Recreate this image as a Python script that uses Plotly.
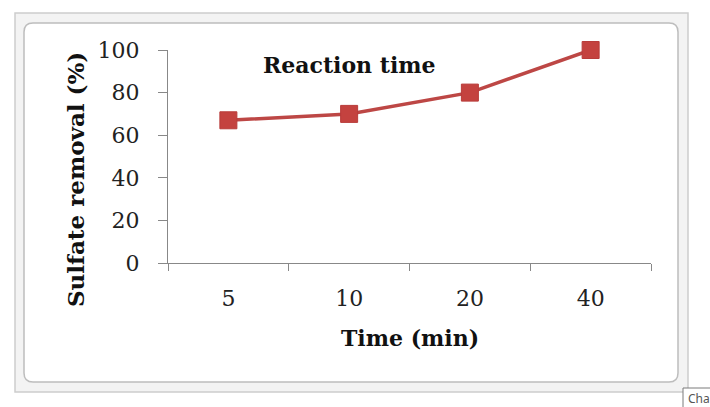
import plotly.graph_objects as go

# ---- data ----
time_labels = ["5", "10", "20", "40"]
sulfate_removal = [67, 70, 80, 100]
y_ticks = [0, 20, 40, 60, 80, 100]

W, H = 710, 407
FONT = "DejaVu Serif"
LINE_COLOR = "#BD4745"
MARKER_COLOR = "#C4423F"


def px(x):
    return x / W


def py(y):
    return 1 - y / H


def rrect(x0, y0, x1, y1, r):
    X0, X1 = px(x0), px(x1)
    Y0, Y1 = py(y0), py(y1)
    rx, ry = r / W, r / H
    return (f"M {X0+rx},{Y0} L {X1-rx},{Y0} Q {X1},{Y0} {X1},{Y0-ry} "
            f"L {X1},{Y1+ry} Q {X1},{Y1} {X1-rx},{Y1} "
            f"L {X0+rx},{Y1} Q {X0},{Y1} {X0},{Y1+ry} "
            f"L {X0},{Y0-ry} Q {X0},{Y0} {X0+rx},{Y0} Z")


fig = go.Figure()
fig.add_trace(go.Scatter(
    x=time_labels, y=sulfate_removal,
    mode="lines+markers",
    line=dict(color=LINE_COLOR, width=3.5),
    marker=dict(symbol="square", size=17, color=MARKER_COLOR,
                line=dict(color="#B83C3A", width=1)),
    cliponaxis=False,
    showlegend=False,
))

shapes = [
    # outer frame band
    dict(type="rect", xref="paper", yref="paper",
         x0=px(15), x1=px(688), y0=py(392), y1=py(13),
         line=dict(color="#CDCDCD", width=1.5), fillcolor="#F3F3F3", layer="below"),
    # inner white rounded chart area
    dict(type="path", xref="paper", yref="paper", path=rrect(24, 23, 678, 382, 9),
         line=dict(color="#BDBDBD", width=1.5), fillcolor="white", layer="below"),
    # "Chart Area" tooltip box (cut by the window edge in the reference)
    dict(type="rect", xref="paper", yref="paper",
         x0=px(683), x1=px(712), y0=py(408), y1=py(388),
         line=dict(color="#7A7A7A", width=1), fillcolor="white", layer="above"),
]

annotations = [
    dict(text="<b>Reaction time</b>", x=px(349), y=py(65), xref="paper", yref="paper",
         showarrow=False, xanchor="center", yanchor="middle",
         font=dict(family=FONT, size=22, color="#111")),
    dict(text="<b>Time (min)</b>", x=px(410), y=py(338), xref="paper", yref="paper",
         showarrow=False, xanchor="center", yanchor="middle",
         font=dict(family=FONT, size=22, color="#111")),
    dict(text="<b>Sulfate removal (%)</b>", x=px(75), y=py(180), xref="paper", yref="paper",
         showarrow=False, xanchor="center", yanchor="middle", textangle=-90,
         font=dict(family=FONT, size=23, color="#111")),
    dict(text="Cha", x=px(686), y=py(398), xref="paper", yref="paper",
         showarrow=False, xanchor="left", yanchor="middle",
         font=dict(family="Noto Sans", size=12, color="#555")),
]

fig.update_layout(
    width=W, height=H, autosize=False,
    margin=dict(l=0, r=0, t=0, b=0, pad=0, autoexpand=False),
    paper_bgcolor="white", plot_bgcolor="rgba(0,0,0,0)",
    shapes=shapes, annotations=annotations,
    xaxis=dict(
        type="category", range=[-0.5, 3.5],
        domain=[px(168), px(651)], automargin=False,
        showline=True, linecolor="#888", linewidth=1,
        ticks="outside", tickson="boundaries", ticklen=7, tickcolor="#888",
        showgrid=False, zeroline=False,
        tickfont=dict(family=FONT, size=22, color="#222"),
        ticklabelstandoff=16,
    ),
    yaxis=dict(
        range=[0, 100], tickvals=y_ticks,
        domain=[py(263), py(50)], automargin=False,
        showline=True, linecolor="#888", linewidth=1,
        ticks="outside", ticklen=9, tickcolor="#888",
        showgrid=False, zeroline=False,
        tickfont=dict(family=FONT, size=22, color="#222"),
        ticklabelstandoff=14,
    ),
)

fig.write_html("out.html")
